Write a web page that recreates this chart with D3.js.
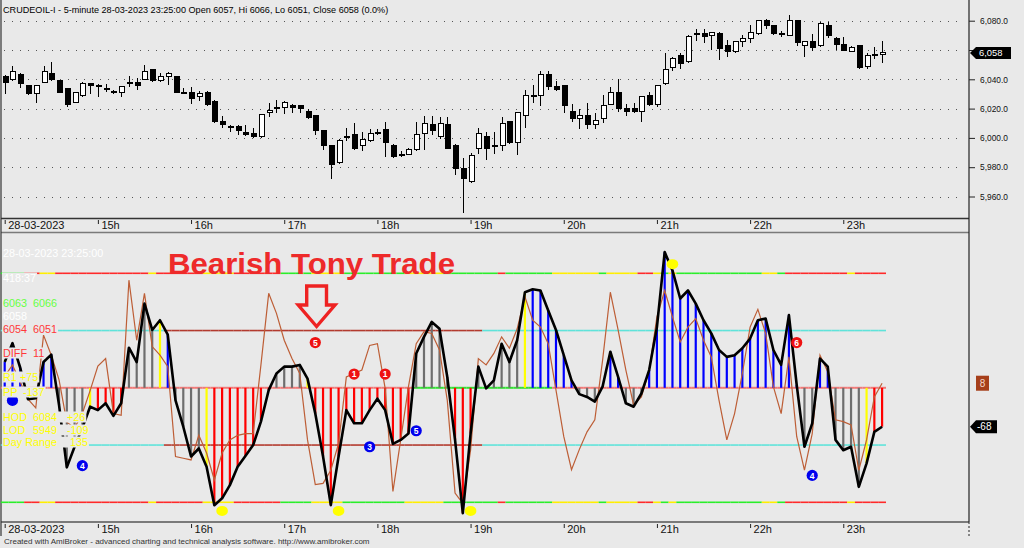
<!DOCTYPE html>
<html>
<head>
<meta charset="utf-8">
<script src="https://cdn.jsdelivr.net/npm/d3@7"></script>
<style>
body { margin: 0; background: #e9e9e9; }
svg { display: block; font-family: Arial, "Liberation Sans", sans-serif; }
</style>
</head>
<body>
<div id="chart-area"></div>
<script>
// ---- data ----
var hourLabels = ["28-03-2023", "15h", "16h", "17h", "18h", "19h", "20h", "21h", "22h", "23h"];
var hourBars = [0, 12, 24, 36, 48, 60, 72, 84, 96, 108];
var priceTicks = [5960, 5980, 6000, 6020, 6040, 6060, 6080];

var opens = [6042,6040,6043,6036,6030,6038,6044,6039,6034,6024,
6029,6037,6036,6034,6032,6031,6038,6038,6040,6047,
6039,6042,6042,6031,6031,6028,6031,6025,6011,6008,
6008,6004,6003,6001,6017,6021,6021,6022,6022,6018,
6015,6005,5995,5983,6001,6002,5995,5998,6004,6006,
5995,5989,5989,5992,6003,6009,6001,6009,5995,5979,
5970,5993,6001,5995,5995,6011,5997,6015,6029,6029,
6043,6035,6036,6018,6013,6015,6009,6013,6023,6031,
6020,6020,6018,6029,6023,6037,6048,6056,6052,6071,
6071,6070,6071,6063,6059,6066,6068,6071,6080,6077,
6071,6070,6080,6063,6066,6063,6077,6068,6064,6059,
6063,6049,6057,6057];
var highs = [6043,6049,6044,6036,6036,6049,6052,6039,6034,6031,
6038,6037,6037,6037,6033,6035,6042,6041,6050,6047,
6044,6045,6042,6034,6035,6032,6032,6026,6015,6009,
6009,6009,6007,6016,6024,6026,6025,6023,6022,6020,
6015,6005,5995,5999,6007,6010,6004,6006,6006,6011,
5996,5991,5993,6011,6015,6015,6014,6014,5996,5986,
5990,6007,6004,6004,6014,6011,6018,6033,6036,6046,
6046,6039,6036,6023,6020,6024,6017,6029,6035,6040,
6023,6024,6028,6031,6036,6058,6055,6058,6070,6074,
6074,6072,6072,6067,6066,6070,6077,6080,6081,6077,
6073,6084,6080,6066,6071,6079,6079,6069,6069,6063,
6063,6058,6062,6066];
var lows = [6030,6039,6034,6029,6024,6038,6039,6031,6021,6024,
6028,6030,6028,6031,6030,6028,6035,6033,6040,6038,
6038,6036,6031,6031,6023,6025,6022,6010,6007,6004,
6002,6001,6000,6000,6014,6017,6016,6017,6017,6013,
6002,5992,5972,5982,5998,5992,5991,5997,6002,5987,
5986,5987,5988,5991,5992,6002,5999,5993,5975,5949,
5969,5989,5985,5989,5991,5996,5988,6007,6024,6022,
6033,6032,6017,6011,6006,6006,6006,6010,6023,6018,
6015,6017,6011,6022,6021,6036,6046,6047,6051,6066,
6065,6060,6053,6055,6058,6062,6065,6070,6074,6070,
6069,6070,6063,6055,6059,6062,6068,6060,6059,6059,
6047,6047,6054,6051];
var closes = [6038,6045,6037,6030,6036,6045,6040,6031,6023,6031,
6037,6036,6035,6033,6031,6035,6038,6036,6045,6039,
6042,6044,6031,6031,6027,6030,6023,6011,6009,6008,
6005,6002,6001,6016,6019,6021,6024,6021,6020,6014,
6005,5995,5982,5998,6001,5993,5999,6003,6004,5997,
5987,5989,5992,6002,6010,6005,6010,5993,5979,5972,
5988,6003,5993,5995,6010,5997,6017,6029,6028,6043,
6035,6033,6022,6013,6015,6009,6012,6022,6031,6020,
6018,6018,6028,6023,6036,6047,6054,6051,6069,6071,
6069,6072,6061,6059,6066,6068,6072,6080,6077,6071,
6071,6080,6065,6066,6062,6078,6070,6064,6060,6062,
6048,6056,6057,6058];

// oscillator (black) and its signal (brown)
var osc = [45,78,35,-20,-18,45,58,-30,-139,-103,
-70,-33,-39,-27,-49,-27,70,45,147,101,
118,93,-22,-68,-120,-106,-138,-205,-193,-170,
-138,-119,-100,-59,-4,25,37,37,40,16,
-45,-120,-205,-120,-39,-62,-62,-39,-19,-39,
-98,-91,-80,60,89,115,103,19,-91,-219,
-80,37,-1,13,77,45,83,167,172,170,
135,101,57,13,-11,-16,-24,2,63,19,
-27,-33,-10,31,106,237,205,156,170,147,
118,95,66,54,57,69,86,118,121,66,
40,127,5,-103,-62,51,37,-91,-109,-103,
-173,-132,-77,-68];
var signal = [20,40,10,-20,-35,92,57,14,-60,-70,
-45,-5,38,51,-45,-48,188,83,165,72,
57,37,-120,-123,-126,-83,-114,-161,-114,-91,
-83,-80,-80,40,165,130,83,51,25,-91,
-169,-167,-144,-97,19,25,31,74,77,-1,
-181,-91,2,77,98,95,66,-22,-184,-202,
-109,51,40,60,89,69,103,159,118,106,
77,-4,-85,-143,-108,-77,-56,48,167,101,
31,-30,-16,31,124,170,124,80,106,121,
83,54,-22,-91,-45,25,106,137,95,2,
-45,54,-85,-144,-80,57,28,-56,-59,-65,
-144,-91,-16,8];

// colour states per bar, as runs
var histRuns = [["B",3],["G",2],["B",2],["G",4],["Y",1],["R",4],["G",4],["Y",1],["B",1],["G",4],["Y",1],["R",8],["G",4],["Y",1],["R",13],["G",5],["R",3],["G",6],["Y",1],["B",6],["G",4],["B",2],["G",3],["B",20],["G",2],["B",2],["G",4],["Y",1],["R",2]];
var bandRuns = [["G",3],["R",2],["Y",2],["R",12],["Y",1],["R",6],["Y",4],["R",6],["G",4],["Y",4],["G",8],["Y",5],["G",7],
["R",1],["G",6],["Y",6],["G",1],["Y",4],["R",2],["Y",1],["G",1],["Y",1],["G",11],["Y",2],["G",1],["R",8],["Y",1],["R",4]];
var midRuns = [["P",53],["G",18],["P",43]];
var pivotRuns = [["C",21],["D",41],["C",52]];

var levels = [200, 100, 0, -100, -200];

// markers on the oscillator
var dotBars = [28, 43, 60, 86];
var dotVals = [-215, -215, -215, 216];
var markBars = [40, 45, 49, 102, 10, 47, 53, 104, 1];
var markVals = [79, 24, 24, 79, -136, -103, -75, -153, -22];
var markText = ["5", "1", "1", "6", "4", "3", "5", "4", ""];
var markKind = ["R", "R", "R", "R", "B", "B", "B", "B", "B"];

var lastOsc = -68, lastSignal = 8, lastPrice = 6058;

function expand(runs) {
    var out = [];
    runs.forEach(function(r){ for (var k = 0; k < r[1]; k++) out.push(r[0]); });
    return out;
}
var histCol = expand(histRuns), bandCol = expand(bandRuns), midCol = expand(midRuns), pivotCol = expand(pivotRuns);

// ---- layout ----
var W = 1024, H = 548;
var bg = "#e9e9e9";
var svg = d3.select("#chart-area").append("svg").attr("width", W).attr("height", H);
svg.append("rect").attr("width", W).attr("height", H).attr("fill", bg);

var x = d3.scaleLinear().domain([0, 113]).range([4.7, 882.1]);
var yP = d3.scaleLinear().domain([5960, 6080]).range([196.5, 20.7]);
var yO = d3.scaleLinear().domain([-200, 200]).range([502.3, 273.3]);
var half = (x(1) - x(0)) / 2;

// ---- price panel ----
var g = svg.append("g");

g.selectAll(".grid").data(priceTicks).enter().append("line")
    .attr("x1", 4).attr("x2", 964)
    .attr("y1", function(d){ return Math.round(yP(d)) + 0.5; })
    .attr("y2", function(d){ return Math.round(yP(d)) + 0.5; })
    .attr("stroke", "#555").attr("stroke-dasharray", "1,7");

var candle = g.selectAll(".candle").data(opens).enter().append("g")
    .attr("shape-rendering", "crispEdges");
candle.append("line")
    .attr("x1", function(d, i){ return Math.round(x(i)) + 0.5; })
    .attr("x2", function(d, i){ return Math.round(x(i)) + 0.5; })
    .attr("y1", function(d, i){ return yP(highs[i]); })
    .attr("y2", function(d, i){ return yP(lows[i]); })
    .attr("stroke", "#000");
candle.append("rect")
    .attr("x", function(d, i){ return Math.round(x(i)) - 2; })
    .attr("width", 5)
    .attr("y", function(d, i){ return yP(Math.max(d, closes[i])); })
    .attr("height", function(d, i){ return Math.max(1, Math.abs(yP(d) - yP(closes[i]))); })
    .attr("fill", function(d, i){ return closes[i] > d ? "#fff" : "#000"; })
    .attr("stroke", "#000").attr("stroke-width", 1);

// price axis; the label under the last-price marker is hidden like in the original
var pAxis = d3.axisRight(yP).tickValues(priceTicks).tickSize(6).tickPadding(5)
    .tickFormat(function(d){ return Math.abs(d - lastPrice) < 5 ? "" : d3.format(",.1f")(d); });
var gp = svg.append("g").attr("transform", "translate(969,0)").call(pAxis);
gp.select(".domain").remove();
gp.attr("font-family", "Arial, 'Liberation Sans', sans-serif").attr("font-size", 8.4);
gp.selectAll("line").attr("stroke", "#222");
gp.selectAll("text").attr("fill", "#111");

svg.append("text").attr("x", 3).attr("y", 13).attr("font-size", 9.1).attr("fill", "#000")
    .text("CRUDEOIL-I - 5-minute 28-03-2023 23:25:00 Open 6057, Hi 6066, Lo 6051, Close 6058 (0.0%)");

// price marker
var py = yP(lastPrice);
svg.append("path").attr("d", "M970," + py + "L976," + (py - 6) + "H1011V" + (py + 6) + "H976Z").attr("fill", "#000");
svg.append("text").attr("x", 979).attr("y", py + 3.3).attr("font-size", 9.4).attr("fill", "#fff")
    .text(d3.format(",")(lastPrice));

// time axes
function timeAxis(y0, ty) {
    var a = d3.axisBottom(x).tickValues(hourBars).tickFormat(function(d, i){ return hourLabels[i]; }).tickSize(5);
    var ga = svg.append("g").attr("transform", "translate(0," + y0 + ")").call(a);
    ga.select(".domain").remove();
    ga.attr("font-family", "Arial, 'Liberation Sans', sans-serif").attr("font-size", 11);
    ga.selectAll("line").attr("stroke", "#222").attr("y1", 2).attr("y2", 6);
    ga.selectAll("text").attr("text-anchor", "start").attr("x", 3).attr("y", ty).attr("dy", "0.71em").attr("fill", "#111");
}
timeAxis(218, 3);
timeAxis(522, 3.5);

// frame lines
svg.append("line").attr("x1", 1).attr("x2", 969).attr("y1", 218.5).attr("y2", 218.5).attr("stroke", "#333").attr("stroke-width", 1.4);
svg.append("line").attr("x1", 1).attr("x2", 969).attr("y1", 232.5).attr("y2", 232.5).attr("stroke", "#7a7a7a").attr("stroke-width", 1.6);
svg.append("line").attr("x1", 1).attr("x2", 969).attr("y1", 522).attr("y2", 522).attr("stroke", "#555").attr("stroke-width", 1.4);
svg.append("line").attr("x1", 1).attr("x2", 1).attr("y1", 0).attr("y2", 536).attr("stroke", "#333").attr("stroke-width", 1.2);
svg.append("line").attr("x1", 969).attr("x2", 969).attr("y1", 0).attr("y2", 522).attr("stroke", "#222").attr("stroke-width", 1.2);
svg.append("line").attr("x1", 969).attr("x2", 969).attr("y1", 522).attr("y2", 538).attr("stroke", "#222").attr("stroke-dasharray", "2,2");

// ---- oscillator panel ----
var o = svg.append("g");
var bandColor = {R: "#ff2a2a", G: "#2aee2a", Y: "#ffee00"};
var midColor = {P: "#f07a78", G: "#33e033"};
var pivotColor = {C: "#5fe3da", D: "#b33a2e"};

levels.forEach(function(lv){
    var codes, map, w;
    if (Math.abs(lv) === 200) { codes = bandCol; map = bandColor; w = 1.6; }
    else if (Math.abs(lv) === 100) { codes = pivotCol; map = pivotColor; w = 1.6; }
    else { codes = midCol; map = midColor; w = 2; }
    o.selectAll(null).data(codes).enter().append("line")
        .attr("x1", function(d, i){ return x(i) - half; })
        .attr("x2", function(d, i){ return x(i) + half; })
        .attr("y1", yO(lv)).attr("y2", yO(lv))
        .attr("stroke", function(d){ return map[d]; })
        .attr("stroke-width", w);
});

var histColor = {B: "#0000ff", G: "#6e6e6e", R: "#ff0000", Y: "#ffff00"};
o.selectAll(".hist").data(osc).enter().append("line")
    .attr("x1", function(d, i){ return x(i); })
    .attr("x2", function(d, i){ return x(i); })
    .attr("y1", yO(0))
    .attr("y2", function(d){ return yO(d); })
    .attr("stroke", function(d, i){ return histColor[histCol[i]]; })
    .attr("stroke-width", 2.2);

var line = d3.line().x(function(d, i){ return x(i); }).y(function(d){ return yO(d); });
o.append("path").datum(signal).attr("d", line).attr("fill", "none")
    .attr("stroke", "#bd5e36").attr("stroke-width", 1.2);
o.append("path").datum(osc).attr("d", line).attr("fill", "none")
    .attr("stroke", "#000").attr("stroke-width", 2.6).attr("stroke-linejoin", "round");

o.selectAll(".dot").data(dotBars).enter().append("ellipse")
    .attr("cx", function(d){ return x(d); })
    .attr("cy", function(d, i){ return yO(dotVals[i]); })
    .attr("rx", 5.8).attr("ry", 5).attr("fill", "#ffff00");

var mk = o.selectAll(".mark").data(markBars).enter().append("g")
    .attr("transform", function(d, i){ return "translate(" + x(d) + "," + yO(markVals[i]) + ")"; });
mk.append("circle").attr("r", 5.6)
    .attr("fill", function(d, i){ return markKind[i] === "R" ? "#ee1111" : "#0000ee"; });
mk.filter(function(d, i){ return markText[i] !== ""; }).append("text")
    .attr("text-anchor", "middle").attr("y", 3.2)
    .attr("font-size", 8.5).attr("font-weight", "bold").attr("fill", "#fff")
    .text(function(d){ return markText[markBars.indexOf(d)]; });

// left info block (opaque background like the original)
var info = [
    [257, "#ffffff", [[3, "28-03-2023 23:25:00"]]],
    [282, "#ffffff", [[3, "418:37"]]],
    [307, "#66ff44", [[3, "6063"], [33, "6066"]]],
    [320, "#ffffff", [[3, "6058"]]],
    [333, "#ff3838", [[3, "6054"], [33, "6051"]]],
    [357, "#ff3838", [[3, "DIFF"], [33, "11"]]],
    [381, "#ffff00", [[3, "R1"], [20, "+75"]]],
    [396, "#ffff00", [[3, "PP"], [23, "-137"]]],
    [421, "#ffff00", [[3, "HOD"], [33, "6084"], [67, "+26"]]],
    [434, "#ffff00", [[3, "LOD"], [33, "5949"], [67, "-109"]]],
    [446, "#ffff00", [[3, "Day Range"], [70, "135"]]]
];
var ig = svg.append("g");
info.forEach(function(r){
    var t = ig.append("text").attr("y", r[0]).attr("font-size", 10.8).attr("fill", r[1]);
    r[2].forEach(function(p){ t.append("tspan").attr("x", p[0]).text(p[1]); });
    var b = t.node().getBBox();
    ig.insert("rect", function(){ return t.node(); })
        .attr("x", b.x - 1).attr("y", b.y + 0.5).attr("width", b.width + 2).attr("height", b.height - 1)
        .attr("fill", bg);
});

// annotation
svg.append("text").attr("x", 168).attr("y", 273.5).attr("font-size", 29).attr("font-weight", "bold")
    .attr("fill", "#ee2a2a").attr("textLength", 287).attr("lengthAdjust", "spacingAndGlyphs")
    .text("Bearish Tony Trade");
svg.append("path")
    .attr("d", "M306.7,286H326.5V305H335L316.6,326.5L298.2,305H306.7Z")
    .attr("fill", "none").attr("stroke", "#ee2222").attr("stroke-width", 3.4).attr("stroke-linejoin", "miter");

// right value labels
var sy = yO(lastSignal);
svg.append("rect").attr("x", 976).attr("y", sy - 7.5).attr("width", 13).attr("height", 15).attr("fill", "#a63f1a");
svg.append("text").attr("x", 982.5).attr("y", sy + 3.5).attr("text-anchor", "middle").attr("font-size", 10)
    .attr("fill", "#f3d6c8").text(lastSignal);
var oy = yO(lastOsc);
svg.append("path").attr("d", "M970," + oy + "L976," + (oy - 6.5) + "H997V" + (oy + 6.5) + "H976Z").attr("fill", "#000");
svg.append("text").attr("x", 977).attr("y", oy + 3.6).attr("font-size", 10).attr("fill", "#fff").text(lastOsc);

svg.append("text").attr("x", 4).attr("y", 544).attr("font-size", 8).attr("fill", "#333")
    .text("Created with AmiBroker - advanced charting and technical analysis software. http://www.amibroker.com");
</script>
</body>
</html>
